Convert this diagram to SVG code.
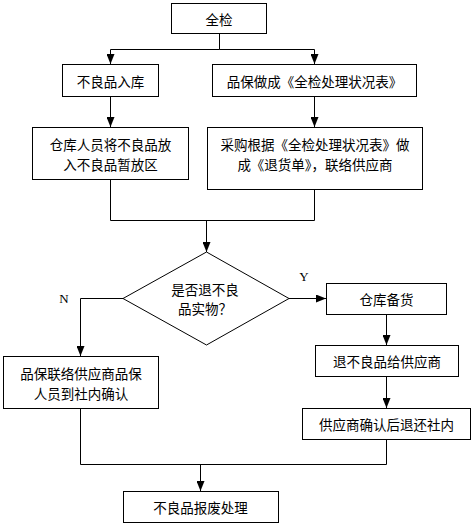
<svg xmlns="http://www.w3.org/2000/svg" width="473" height="525" viewBox="0 0 473 525">
<defs>
<marker id="arr" markerUnits="userSpaceOnUse" markerWidth="10" markerHeight="8" refX="10" refY="4" orient="auto">
<path d="M0,0 L10,4 L0,8 Z" fill="#000"/>
</marker>
<style>
.box{fill:#fff;stroke:#000;stroke-width:1}
.t{font-family:"Noto Sans CJK SC","Liberation Sans",sans-serif;font-size:13.5px;fill:#000;text-anchor:middle;dominant-baseline:central}
.l{font-family:"Liberation Serif",serif;font-size:13px;fill:#000;text-anchor:middle;dominant-baseline:central}
.c{fill:none;stroke:#000;stroke-width:1}
</style>
</defs>
<rect width="473" height="525" fill="#fff"/>
<g id="connectors">
<path class="c" d="M219.5,33 V49.5 H110.5 V64" marker-end="url(#arr)"/>
<path class="c" d="M219.5,49.5 H314.5 V64" marker-end="url(#arr)"/>
<path class="c" d="M110.5,96 V127" marker-end="url(#arr)"/>
<path class="c" d="M314.5,96 V127" marker-end="url(#arr)"/>
<path class="c" d="M110.5,179 V220.5 H314.5 V189"/>
<path class="c" d="M206.5,220.5 V252" marker-end="url(#arr)"/>
<path class="c" d="M123,298.5 H80.5 V356" marker-end="url(#arr)"/>
<path class="c" d="M289,298.5 H326" marker-end="url(#arr)"/>
<path class="c" d="M386.5,314 V345" marker-end="url(#arr)"/>
<path class="c" d="M386.5,376 V408" marker-end="url(#arr)"/>
<path class="c" d="M80.5,408 V464.5 H386.5 V439"/>
<path class="c" d="M200.5,464.5 V491" marker-end="url(#arr)"/>
<text class="l" x="304" y="276">Y</text>
<text class="l" x="64" y="298">N</text>
</g>
<g id="n1"><rect class="box" x="171.5" y="3.5" width="95" height="30"/><text class="t" x="219" y="18.5">全检</text></g>
<g id="n2"><rect class="box" x="62.5" y="64.5" width="96" height="32"/><text class="t" x="110.5" y="80.5">不良品入库</text></g>
<g id="n3"><rect class="box" x="212.5" y="64.5" width="204" height="32"/><text class="t" x="314.5" y="80.5">品保做成《全检处理状况表》</text></g>
<g id="n4"><rect class="box" x="32.5" y="127.5" width="156" height="52"/><text class="t" x="110.5" y="143.5">仓库人员将不良品放</text><text class="t" x="110.5" y="163.5">入不良品暂放区</text></g>
<g id="n5"><rect class="box" x="207.5" y="127.5" width="215" height="62"/><text class="t" x="315" y="143.5">采购根据《全检处理状况表》做</text><text class="t" x="315" y="163.5">成《退货单》，联络供应商</text></g>
<g id="n6"><path class="box" d="M206.5,252 L289,298.5 L206.5,345 L123,298.5 Z"/><text class="t" x="205" y="289">是否退不良</text><text class="t" x="205" y="308">品实物？</text></g>
<g id="n7"><rect class="box" x="326.5" y="283.5" width="120" height="31"/><text class="t" x="386.5" y="299">仓库备货</text></g>
<g id="n8"><rect class="box" x="315.5" y="345.5" width="143" height="31"/><text class="t" x="387" y="361">退不良品给供应商</text></g>
<g id="n9"><rect class="box" x="302.5" y="408.5" width="168" height="31"/><text class="t" x="386.5" y="424">供应商确认后退还社内</text></g>
<g id="n10"><rect class="box" x="3.5" y="356.5" width="155" height="52"/><text class="t" x="81" y="373">品保联络供应商品保</text><text class="t" x="81" y="392.5">人员到社内确认</text></g>
<g id="n11"><rect class="box" x="123.5" y="491.5" width="155" height="31"/><text class="t" x="200.5" y="507">不良品报废处理</text></g>
</svg>
